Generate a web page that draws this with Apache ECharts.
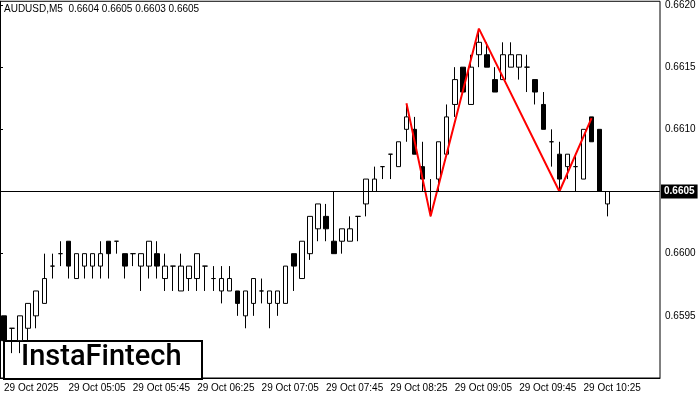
<!DOCTYPE html>
<html>
<head>
<meta charset="utf-8">
<script src="https://cdn.jsdelivr.net/npm/echarts@6/dist/echarts.min.js"></script>
<style>html,body{margin:0;padding:0;background:#fff}#chart{width:700px;height:400px}</style>
</head>
<body>
<div id="chart"></div>
<script>
// candles: [open, close, low, high]
const ohlc = [
  [0.6595,0.6593,0.6592,0.6595],[0.6594,0.6594,0.6592,0.6594],[0.6593,0.6595,0.6592,0.6595],[0.6594,0.6596,0.6593,0.6596],
  [0.6595,0.6597,0.6594,0.6597],[0.6596,0.6598,0.6596,0.6600],[0.6599,0.6599,0.6598,0.6600],[0.6600,0.6600,0.6599,0.6601],
  [0.6601,0.6599,0.6598,0.6601],[0.6598,0.6600,0.6598,0.6600],[0.6599,0.6600,0.6598,0.6600],[0.6599,0.6600,0.6598,0.6600],
  [0.6599,0.6600,0.6598,0.6601],[0.6601,0.6600,0.6598,0.6601],[0.6601,0.6601,0.6600,0.6601],[0.6600,0.6599,0.6598,0.6600],
  [0.6600,0.6600,0.6599,0.6600],[0.6599,0.6600,0.6597,0.6600],[0.6599,0.6601,0.6598,0.6601],[0.6600,0.6599,0.6598,0.6601],
  [0.6598,0.6599,0.6597,0.6600],[0.6599,0.6599,0.6597,0.6599],[0.6597,0.6599,0.6597,0.6600],[0.6598,0.6599,0.6597,0.6599],
  [0.6598,0.6600,0.6597,0.6600],[0.6599,0.6599,0.6597,0.6599],[0.6598,0.6598,0.6597,0.6599],[0.6597,0.6598,0.6596,0.6599],
  [0.6597,0.6598,0.6597,0.6599],[0.6597,0.6596,0.6595,0.6597],[0.6595,0.6597,0.6594,0.6597],[0.6596,0.6598,0.6595,0.6598],
  [0.6597,0.6597,0.6596,0.6598],[0.6596,0.6597,0.6594,0.6597],[0.6596,0.6597,0.6595,0.6597],[0.6596,0.6599,0.6596,0.6599],
  [0.6600,0.6599,0.6597,0.6600],[0.6598,0.6601,0.6598,0.6601],[0.6600,0.6603,0.65995,0.6603],[0.6602,0.6604,0.6601,0.6604],
  [0.6603,0.6602,0.6601,0.6604],[0.6601,0.6600,0.6600,0.6605],[0.6601,0.6602,0.6600,0.6602],[0.6601,0.6602,0.6601,0.6603],
  [0.6603,0.6603,0.6601,0.6603],[0.6604,0.6606,0.6603,0.6606],[0.6605,0.6606,0.6605,0.6607],[0.6607,0.6607,0.6606,0.6607],
  [0.6608,0.6608,0.6606,0.6608],[0.6607,0.6609,0.6607,0.6609],[0.6610,0.6611,0.6609,0.6612],[0.6610,0.6608,0.6608,0.6611],
  [0.6607,0.6606,0.6605,0.6609],[0.6605,0.6605,0.6603,0.6606],[0.6606,0.6609,0.6605,0.6609],[0.6608,0.6611,0.6608,0.6612],
  [0.6612,0.6614,0.6611,0.6615],[0.6615,0.6613,0.6613,0.6615],[0.6612,0.6615,0.6612,0.6616],[0.6616,0.6617,0.6615,0.6618],
  [0.6616,0.6615,0.6615,0.6617],[0.6614,0.6613,0.6613,0.6615],[0.6614,0.6616,0.6614,0.6617],[0.6615,0.6616,0.6615,0.6617],
  [0.6615,0.6616,0.6614,0.6616],[0.6615,0.6615,0.6613,0.6616],[0.6614,0.6613,0.6612,0.6614],[0.6612,0.6610,0.6610,0.6613],
  [0.6609,0.6609,0.6607,0.6610],[0.6608,0.6606,0.6605,0.6609],[0.6607,0.6608,0.6606,0.6608],[0.6607,0.6607,0.6605,0.6608],
  [0.6606,0.6610,0.6606,0.6610],[0.6611,0.6609,0.6609,0.6611],[0.6610,0.6605,0.6605,0.6610],[0.6604,0.6605,0.6603,0.6605]
];
// head & shoulders pattern points: [candle index, price]
const patternPts = [[50,0.66121],[53,0.66030],[59,0.66181],[69,0.66050],[73,0.66109]];
const lastPrice = 0.6605;
const totalSlots = 82;

const times = [];
for (let i = 0; i < totalSlots; i++) {
  const m = 4 * 60 + 25 + 5 * i;
  const hh = String(Math.floor(m / 60)).padStart(2, '0');
  const mm = String(m % 60).padStart(2, '0');
  times.push(i === 0 ? '29 Oct 2025' : '29 Oct ' + hh + ':' + mm);
}

const font = 'Liberation Sans';
const chart = echarts.init(document.getElementById('chart'));
chart.setOption({
  animation: false,
  backgroundColor: '#fff',
  grid: { left: 0, right: 40, top: 0, bottom: 22, show: true, borderColor: '#000', borderWidth: 1 },
  xAxis: [{
    type: 'category', data: times, boundaryGap: true,
    axisLine: { lineStyle: { color: '#000' } },
    axisTick: { interval: 7, length: 3, lineStyle: { color: '#000' } },
    axisLabel: {
      interval: 7, align: 'left', color: '#000', fontSize: 10, fontFamily: font, margin: 5,
      formatter: (v, i) => (i >= 80 ? '' : v)
    },
    splitLine: { show: false }
  }, {
    type: 'value', min: 0, max: 1, show: false
  }],
  yAxis: {
    type: 'value', position: 'right', min: 0.6590, max: 0.66203, interval: 0.0005,
    axisLine: { show: true, lineStyle: { color: '#000' } },
    axisTick: { show: true, length: 3, lineStyle: { color: '#000' } },
    axisLabel: {
      color: '#000', fontSize: 10, fontFamily: font, margin: 5, showMaxLabel: false,
      formatter: v => (v < 0.65925 ? '' : v.toFixed(4))
    },
    splitLine: { show: false }
  },
  series: [
    {
      type: 'candlestick', data: ohlc, barWidth: 5,
      itemStyle: { color: '#fff', color0: '#000', borderColor: '#000', borderColor0: '#000', borderWidth: 1 }
    },
    {
      type: 'line', data: patternPts, symbol: 'none',
      lineStyle: { color: '#ff0000', width: 2 }
    },
    {
      type: 'line', xAxisIndex: 1, data: [[0, lastPrice], [1, lastPrice]], symbol: 'none', silent: true,
      lineStyle: { color: '#000', width: 1 },
      endLabel: {
        show: true, formatter: lastPrice.toFixed(4), color: '#fff', backgroundColor: '#000',
        fontSize: 10, fontFamily: font, fontWeight: 'bold', padding: [2, 3], distance: 1
      }
    }
  ],
  graphic: [
    { type: 'text', left: 4, top: 4, style: { text: 'AUDUSD,M5  0.6604 0.6605 0.6603 0.6605', fill: '#000', font: '10px Liberation Sans' } },
    { type: 'rect', left: 3, top: 340, shape: { width: 198, height: 38 }, style: { fill: '#fff', stroke: '#000', lineWidth: 2 } },
    { type: 'text', left: 21, top: 343, style: { text: 'InstaFintech', fill: '#000', font: '500 29px Roboto' } }
  ]
});
</script>
</body>
</html>
